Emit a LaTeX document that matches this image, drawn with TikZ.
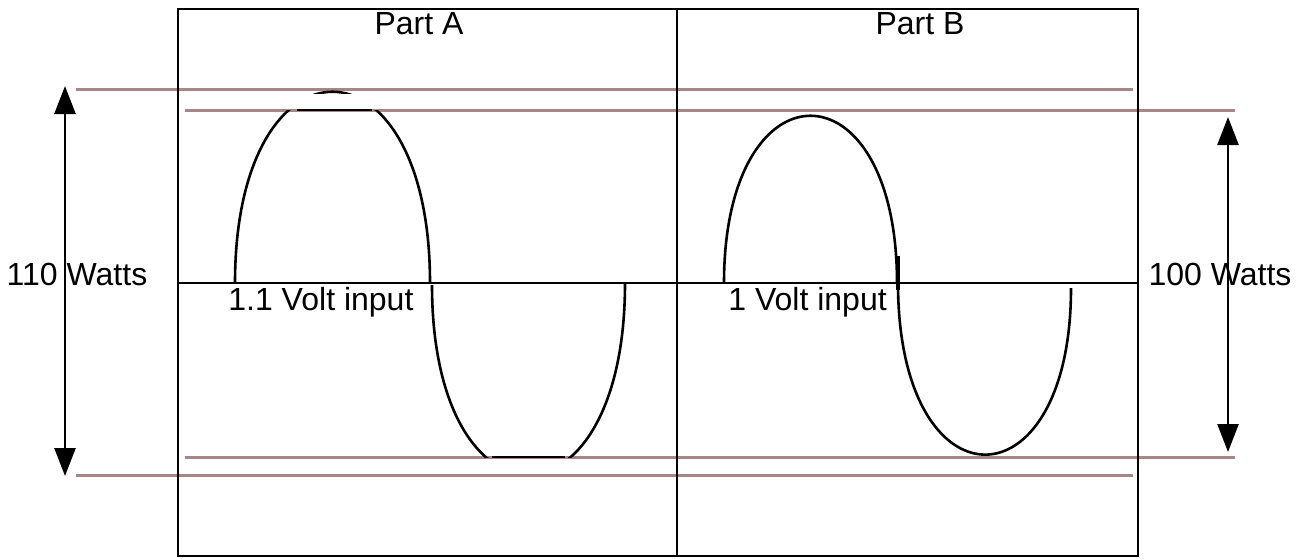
\documentclass[tikz,border=0pt]{standalone}
\usepackage{fontspec}
\setmainfont{Liberation Sans}
\usetikzlibrary{arrows.meta}
\definecolor{guide}{RGB}{168,134,134}
\tikzset{
  frame/.style={line width=1.4pt, black},
  guideline/.style={line width=1.5pt, guide},
  wave/.style={line width=1.3pt, black},
  dimarrow/.style={line width=1.3pt, black, {Triangle[length=14pt,width=10.5pt]}-{Triangle[length=14pt,width=10.5pt]}},
  lbl/.style={font=\fontsize{16pt}{18pt}\selectfont, inner sep=0pt},
}
\begin{document}
\begin{tikzpicture}[x=0.5pt, y=-0.5pt]
\useasboundingbox (0,0) rectangle (1300,558);
% guide lines
\draw[guideline] (76,89) -- (1133,89);
\draw[guideline] (185,110) -- (1235,110);
\draw[guideline] (185,457) -- (1235,457);
\draw[guideline] (76,475) -- (1133,475);
% frame
\draw[frame] (178,9) rectangle (1138,556);
\draw[frame] (677,9) -- (677,556);
\draw[frame] (178,283) -- (1138,283);
% Part A waves (clipped)
\begin{scope}
  \clip (0,110) rectangle (1300,600);
  \draw[wave] (235,283) .. controls (235,28) and (430,28) .. (430,283);
\end{scope}
\begin{scope}
  \clip (0,0) rectangle (1300,93.3);
  \draw[wave] (235,283) .. controls (235,28) and (430,28) .. (430,283);
\end{scope}
\draw[wave] (297,110) -- (372,110);
\begin{scope}
  \clip (0,0) rectangle (1300,457);
  \draw[wave] (432,285) .. controls (432,538) and (625,538) .. (625,283);
\end{scope}
\draw[wave] (492,457) -- (565,457);
% Part B waves
\draw[wave] (724,283) .. controls (724,60) and (897,60) .. (897,283);
\draw[line width=1.8pt] (898,256) -- (898,290);
\draw[wave] (898,283) .. controls (898,511) and (1071,511) .. (1071,288);
% dimension arrows
\coordinate (la) at (65,86);
\coordinate (lb) at (65,476);
\coordinate (ra) at (1228,117);
\coordinate (rb) at (1228,452);
\draw[dimarrow] (la) -- (lb);
\draw[dimarrow] (ra) -- (rb);
% labels
\node[lbl] (pa) at (419,24) {Part A};
\node[lbl] (pb) at (920,24) {Part B};
\node[lbl, anchor=west] (va) at (228,302) {1.1 Volt input};
\node[lbl, anchor=west] (vb) at (728,302) {1 Volt input};
\node[lbl] (wa) at (77,274) {110 Watts};
\node[lbl] (wb) at (1220,274) {100 Watts};
\end{tikzpicture}
\end{document}
